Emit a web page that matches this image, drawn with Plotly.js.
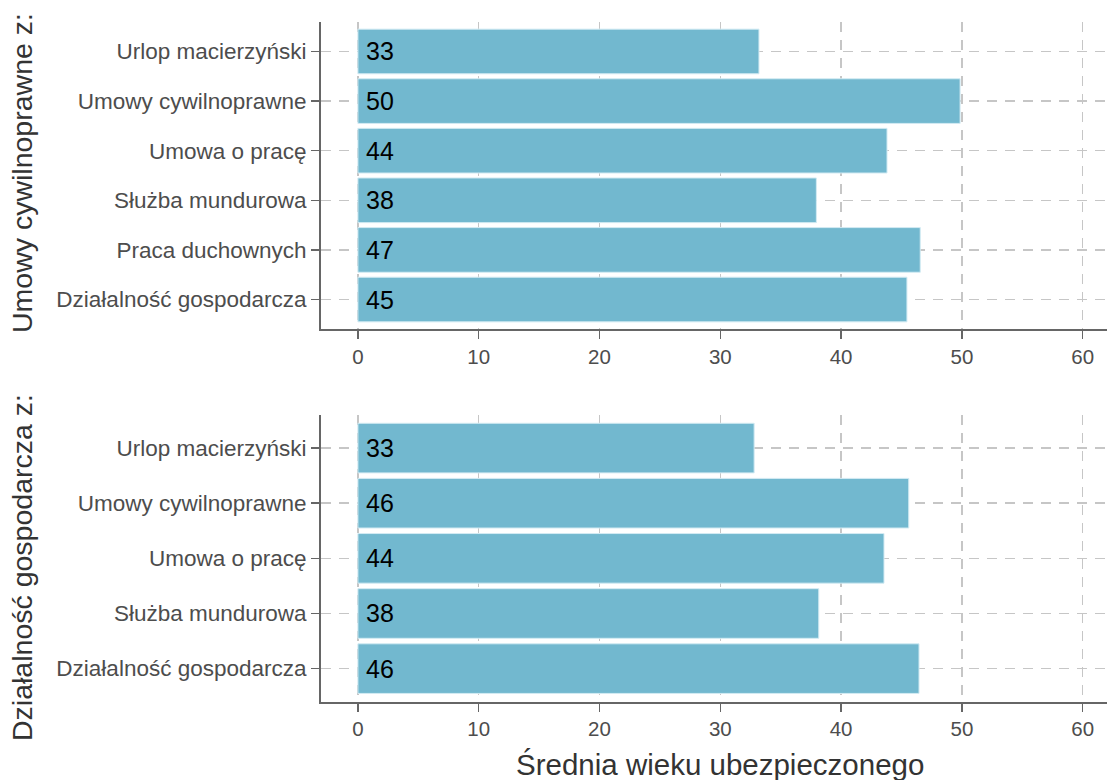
<!DOCTYPE html>
<html>
<head>
<meta charset="utf-8">
<script src="https://cdn.plot.ly/plotly-3.0.1.min.js"></script>
<style>
  html, body { margin: 0; padding: 0; background: #ffffff; }
  #chart { width: 1107px; height: 780px; }
</style>
</head>
<body>
<div id="chart"></div>
<script>
// ---- data ----
const topCategories = ["Urlop macierzyński", "Umowy cywilnoprawne", "Umowa o pracę", "Służba mundurowa", "Praca duchownych", "Działalność gospodarcza"];
const topValues = [33.2, 49.85, 43.8, 37.95, 46.55, 45.45];
const bottomCategories = ["Urlop macierzyński", "Umowy cywilnoprawne", "Umowa o pracę", "Służba mundurowa", "Działalność gospodarcza"];
const bottomValues = [32.8, 45.6, 43.55, 38.15, 46.45];
const xTickValues = [0, 10, 20, 30, 40, 50, 60];
const topPanelTitle = "Umowy cywilnoprawne z:";
const bottomPanelTitle = "Działalność gospodarcza z:";
const xTitle = "Średnia wieku ubezpieczonego";

// ---- styling ----
const W = 1107, H = 780;
const FONT = '"Liberation Sans", Arial, sans-serif';
const barColor = '#72b8cf';
const gridColor = '#c6c6c6';
const axisColor = '#666666';
const tickTextColor = '#4d4d4d';

const traces = [
  {
    type: 'bar', orientation: 'h', x: topValues, y: topCategories,
    xaxis: 'x', yaxis: 'y', width: 0.9,
    marker: { color: barColor, line: { color: '#d3ebf3', width: 1 } },
    hoverinfo: 'x+y', showlegend: false
  },
  {
    type: 'bar', orientation: 'h', x: bottomValues, y: bottomCategories,
    xaxis: 'x2', yaxis: 'y2', width: 0.9,
    marker: { color: barColor, line: { color: '#d3ebf3', width: 1 } },
    hoverinfo: 'x+y', showlegend: false
  }
];

function xAxis(anchor, domain) {
  return {
    anchor: anchor, domain: domain,
    range: [-3.055, 62.01],
    tickmode: 'array', tickvals: xTickValues, ticktext: xTickValues.map(String),
    ticks: 'outside', ticklen: 8, tickwidth: 1.5, tickcolor: axisColor,
    showline: true, linecolor: axisColor, linewidth: 2,
    showgrid: true, gridcolor: gridColor, gridwidth: 1.5, griddash: '10px,8px',
    zeroline: false,
    tickfont: { family: FONT, size: 20.5, color: tickTextColor },
    fixedrange: true
  };
}
function yAxis(anchor, domain, cats) {
  return {
    anchor: anchor, domain: domain,
    type: 'category', categoryorder: 'array', categoryarray: cats,
    range: [cats.length - 0.4, -0.6],
    ticks: 'outside', ticklen: 8, tickwidth: 1.5, tickcolor: axisColor,
    showline: true, linecolor: axisColor, linewidth: 2,
    showgrid: true, gridcolor: gridColor, gridwidth: 1.5, griddash: '10px,8px',
    zeroline: false,
    tickfont: { family: FONT, size: 22.5, color: tickTextColor },
    fixedrange: true
  };
}

const topDomain = [1 - 329.3 / H, 1 - 21.7 / H];
const bottomDomain = [1 - 701.7 / H, 1 - 415 / H];

const annotations = [];
topValues.forEach((v, i) => annotations.push({
  x: 0, y: topCategories[i], xref: 'x', yref: 'y', text: String(Math.round(v)),
  showarrow: false, xanchor: 'left', yanchor: 'middle', xshift: 6,
  font: { family: FONT, size: 25, color: '#000000' }
}));
bottomValues.forEach((v, i) => annotations.push({
  x: 0, y: bottomCategories[i], xref: 'x2', yref: 'y2', text: String(Math.round(v)),
  showarrow: false, xanchor: 'left', yanchor: 'middle', xshift: 6,
  font: { family: FONT, size: 25, color: '#000000' }
}));
annotations.push({
  text: topPanelTitle, xref: 'paper', yref: 'paper',
  x: (22 - 321) / 786, y: 1 - 173 / H, textangle: -90,
  xanchor: 'center', yanchor: 'middle', showarrow: false,
  font: { family: FONT, size: 28.5, color: '#333333' }
});
annotations.push({
  text: bottomPanelTitle, xref: 'paper', yref: 'paper',
  x: (22 - 321) / 786, y: 1 - 568 / H, textangle: -90,
  xanchor: 'center', yanchor: 'middle', showarrow: false,
  font: { family: FONT, size: 28.5, color: '#333333' }
});
annotations.push({
  text: xTitle, xref: 'paper', yref: 'paper',
  x: (719.5 - 321) / 786, y: 1 - 764 / H,
  xanchor: 'center', yanchor: 'middle', showarrow: false,
  font: { family: FONT, size: 29.5, color: '#333333' }
});

const layout = {
  width: W, height: H,
  margin: { l: 321, r: 0, t: 0, b: 0, pad: 0 },
  paper_bgcolor: '#ffffff', plot_bgcolor: '#ffffff',
  font: { family: FONT },
  showlegend: false,
  bargap: 0.1,
  xaxis: xAxis('y', [0, 1]),
  yaxis: yAxis('x', topDomain, topCategories),
  xaxis2: xAxis('y2', [0, 1]),
  yaxis2: yAxis('x2', bottomDomain, bottomCategories),
  annotations: annotations
};

Plotly.newPlot('chart', traces, layout, { displayModeBar: false, staticPlot: true });
</script>
</body>
</html>
